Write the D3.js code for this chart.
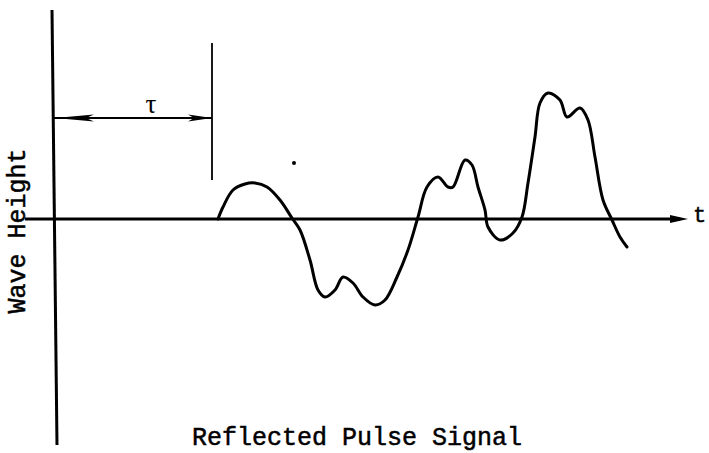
<!DOCTYPE html>
<html>
<head>
<meta charset="utf-8">
<script src="https://cdn.jsdelivr.net/npm/d3@7"></script>
<style>
  html, body { margin: 0; padding: 0; background: #fff; }
  svg { display: block; }
</style>
</head>
<body>
<svg id="chart" width="709" height="453"></svg>
<script>
// ---- data (time units, wave-height units) ----
const title = "Reflected Pulse Signal";
const yLabel = "Wave Height";
const xLabel = "t";
const tauLabel = "τ";
const tau = 15.8;                 // delay of reflected pulse
const signalT = [16.4, 16.9, 17.9, 19.1, 20.1, 21.3, 22.6, 23.8, 24.6, 25.6, 26.4, 27.1, 28.1, 28.9, 29.9, 30.9, 32.1, 33.1, 34.3, 35.4, 36.4, 37.3, 38.4, 39.4, 39.9, 41.1, 41.8, 42.4, 43.1, 43.4, 44.6, 45.9, 46.8, 47.4, 48.1, 48.6, 49.4, 50.6, 51.3, 52.6, 53.4, 54.1, 54.9, 55.8, 56.6, 57.3];
const signalH = [0, 1.2, 2.9, 3.5, 3.6, 3.2, 1.9, 0.1, -1.1, -4.1, -7.1, -7.8, -7.1, -5.8, -6.4, -7.8, -8.6, -8.1, -5.8, -3.1, 0.2, 3.2, 4.2, 3.2, 3.2, 5.9, 5.4, 3.2, 0.9, -0.8, -2.1, -1.4, 0.2, 3.6, 8.2, 11.6, 12.6, 11.9, 10.2, 11.1, 9.9, 6.2, 1.9, -0.1, -1.8, -2.8];
const xAxisRange = [-2.9, 63.4];
const yAxisRange = [-22.6, 20.9];
const tauLineRange = [3.9, 17.6];
const tauArrowH = 10.1;
const strayDot = [24.0, 5.6];

// ---- scales ----
const svg = d3.select("#chart");
const x = d3.scaleLinear().domain([0, 65]).range([54, 704]);
const y = d3.scaleLinear().domain([-22.6, 20.9]).range([445, 10]);

const ink = "#000";

// y axis
svg.append("line")
  .attr("x1", x(0) - 2).attr("y1", y(yAxisRange[1]))
  .attr("x2", x(0) + 3).attr("y2", y(yAxisRange[0]))
  .attr("stroke", ink).attr("stroke-width", 3);

// x axis
svg.append("line")
  .attr("x1", x(xAxisRange[0])).attr("y1", y(0))
  .attr("x2", x(xAxisRange[1]) - 8).attr("y2", y(0))
  .attr("stroke", ink).attr("stroke-width", 3);
const xa = x(xAxisRange[1]), ya = y(0);
svg.append("path")
  .attr("d", `M${xa},${ya} L${xa - 18},${ya - 4} L${xa - 18},${ya + 4} Z`)
  .attr("fill", ink);

// x label
svg.append("text")
  .attr("x", x(xAxisRange[1]) + 5).attr("y", y(0) + 3)
  .attr("font-family", "Liberation Mono, Courier New, monospace")
  .attr("font-size", 22).attr("fill", ink)
  .attr("stroke", ink).attr("stroke-width", 0.4)
  .text(xLabel);

// tau marker line
svg.append("line")
  .attr("x1", x(tau)).attr("y1", y(tauLineRange[1]))
  .attr("x2", x(tau)).attr("y2", y(tauLineRange[0]))
  .attr("stroke", ink).attr("stroke-width", 1.8);

// tau double arrow
const ay = y(tauArrowH);
svg.append("line")
  .attr("x1", x(0)).attr("y1", ay)
  .attr("x2", x(tau)).attr("y2", ay)
  .attr("stroke", ink).attr("stroke-width", 2);
svg.append("path")
  .attr("d", `M${x(0) + 1},${ay} L${x(0) + 40},${ay - 3.5} L${x(0) + 32},${ay} L${x(0) + 40},${ay + 3.5} Z`)
  .attr("fill", ink);
svg.append("path")
  .attr("d", `M${x(tau)},${ay} L${x(tau) - 24},${ay - 3.5} L${x(tau) - 18},${ay} L${x(tau) - 24},${ay + 3.5} Z`)
  .attr("fill", ink);
svg.append("text")
  .attr("x", x(tau / 2) + 18).attr("y", ay - 5)
  .attr("text-anchor", "middle")
  .attr("font-family", "Liberation Serif, Times New Roman, serif")
  .attr("font-size", 27).attr("fill", ink)
  .text(tauLabel);

// signal
const pts = signalT.map((t, i) => [t, signalH[i]]);
const line = d3.line().x(d => x(d[0])).y(d => y(d[1])).curve(d3.curveCatmullRom.alpha(0.5));
svg.append("path")
  .datum(pts)
  .attr("d", line)
  .attr("fill", "none")
  .attr("stroke", ink).attr("stroke-width", 3)
  .attr("stroke-linejoin", "round").attr("stroke-linecap", "round");

// stray dot
svg.append("circle")
  .attr("cx", x(strayDot[0])).attr("cy", y(strayDot[1]))
  .attr("r", 2).attr("fill", ink);

// y label
svg.append("text")
  .attr("transform", `translate(25, ${y(0) + 12}) rotate(-90)`)
  .attr("text-anchor", "middle")
  .attr("font-family", "Liberation Mono, Courier New, monospace")
  .attr("font-size", 25).attr("fill", ink)
  .attr("stroke", ink).attr("stroke-width", 0.5)
  .text(yLabel);

// title
svg.append("text")
  .attr("x", 357).attr("y", 445)
  .attr("text-anchor", "middle")
  .attr("font-family", "Liberation Mono, Courier New, monospace")
  .attr("font-size", 25).attr("fill", ink)
  .attr("stroke", ink).attr("stroke-width", 0.5)
  .text(title);
</script>
</body>
</html>
